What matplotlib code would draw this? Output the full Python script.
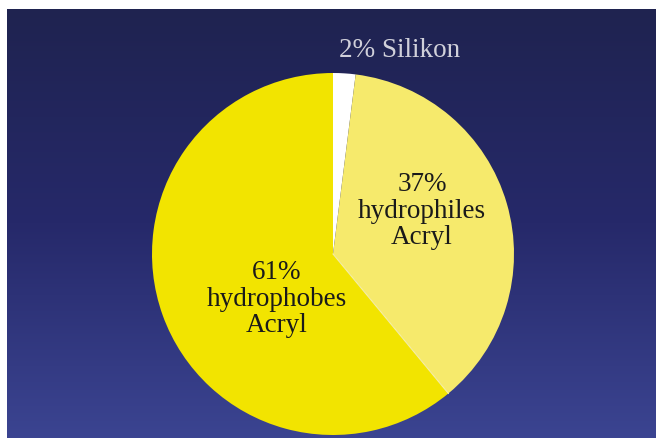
import numpy as np
import matplotlib
matplotlib.use("Agg")
from matplotlib import pyplot as plt
from matplotlib.colors import LinearSegmentedColormap

# material shares in percent, drawn clockwise from 12 o'clock
materials = ["Silikon", "hydrophiles\nAcryl", "hydrophobes\nAcryl"]
shares = [2, 37, 61]
slice_colors = ["#ffffff", "#f6ea6c", "#f2e400"]

W, H = 656, 439

fig = plt.figure(figsize=(W / 100, H / 100), dpi=100, facecolor="white")

# slide background: dark navy at the top fading to a lighter blue
bg = fig.add_axes([7 / W, 0, 1 - 7 / W, 1 - 10 / H])
bg.set_axis_off()
grad = np.linspace(0, 1, 256).reshape(-1, 1)
cmap = LinearSegmentedColormap.from_list("slide", ["#1f2350", "#26296a", "#3b4491"])
bg.imshow(grad, cmap=cmap, aspect="auto", extent=[0, 1, 0, 1], origin="upper")

# pie in pixel coordinates of the figure
ax = fig.add_axes([0, 0, 1, 1])
ax.patch.set_alpha(0)

cx, cy, r = 333, H - 255, 181
wedges, _ = ax.pie(shares, colors=slice_colors, startangle=90, counterclock=False,
                   center=(cx, cy), radius=r, frame=True,
                   wedgeprops=dict(linewidth=0))

# thin light seam between the two acrylic slices
theta = np.deg2rad(wedges[1].theta1)
ax.plot([cx, cx + r * np.cos(theta)], [cy, cy + r * np.sin(theta)],
        color="#f8f0a8", linewidth=0.8)

ax.set_xlim(0, W)
ax.set_ylim(0, H)
ax.set_axis_off()

font = dict(family="Liberation Serif", fontsize=19.5, ha="center", va="center", linespacing=1.1)
ax.text(400, H - 50, f"{shares[0]}% {materials[0]}", color="#d0d0da", **font)
ax.text(422, H - 211, f"{shares[1]}%\n{materials[1]}", color="#1a1a1a", **font)
ax.text(277, H - 299, f"{shares[2]}%\n{materials[2]}", color="#1a1a1a", **font)

fig.savefig("out.png", dpi=100, facecolor="white")
